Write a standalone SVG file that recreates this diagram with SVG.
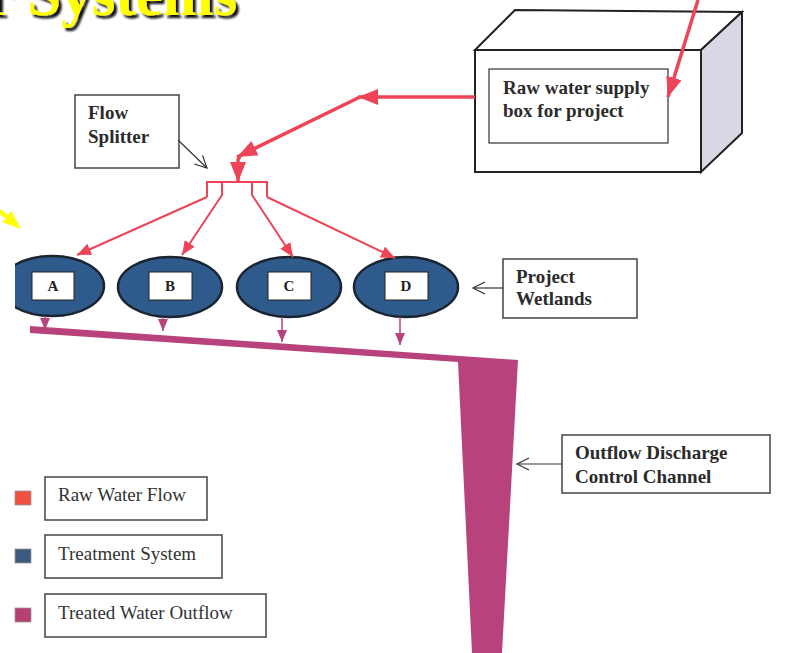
<svg xmlns="http://www.w3.org/2000/svg" width="802" height="653" viewBox="0 0 802 653">
<style>
.lbl{font-family:"Liberation Serif","Times New Roman",serif;font-weight:bold;font-size:19px;fill:#2b2b2b}
.leg{font-family:"Liberation Serif","Times New Roman",serif;font-size:19px;fill:#333}
.box{fill:#fff;stroke:#444;stroke-width:1.5}
.wet{fill:#2f5b8c;stroke:#1b2431;stroke-width:2.5}
.inner{fill:#fff;stroke:#222;stroke-width:1}
.let{font-family:"Liberation Serif","Times New Roman",serif;font-weight:bold;font-size:15px;fill:#222;text-anchor:middle}
.red{fill:none;stroke:#ee4457;stroke-width:3.5}
.redt{fill:none;stroke:#ee4457;stroke-width:2}
.pur{fill:none;stroke:#b8437c;stroke-width:1.5}
.lead{fill:none;stroke:#333;stroke-width:1.2}
.title{font-family:"Liberation Serif","Times New Roman",serif;font-weight:bold;font-size:61px;fill:#ffff00}
</style>
<defs>
<filter id="shadow" x="-10%" y="-20%" width="130%" height="150%"><feDropShadow dx="3" dy="3" stdDeviation="0.8" flood-color="#111" flood-opacity="1"/></filter>
<marker id="rh" markerUnits="userSpaceOnUse" markerWidth="22" markerHeight="18" refX="20" refY="8" orient="auto"><path d="M0,0 L20,8 L0,16 Z" fill="#ee4457"/></marker>
<marker id="rs" markerUnits="userSpaceOnUse" markerWidth="16" markerHeight="14" refX="14" refY="6" orient="auto"><path d="M0,0 L14,6 L0,12 Z" fill="#ee4457"/></marker>
<marker id="ph" markerUnits="userSpaceOnUse" markerWidth="14" markerHeight="12" refX="12" refY="5" orient="auto"><path d="M0,0 L12,5 L0,10 Z" fill="#b8437c"/></marker>
<marker id="oh" markerUnits="userSpaceOnUse" markerWidth="16" markerHeight="16" refX="13" refY="7" orient="auto"><path d="M1,1 L13,7 L1,13" fill="none" stroke="#333" stroke-width="1.2"/></marker>
<clipPath id="clipA"><rect x="15" y="240" width="120" height="90"/></clipPath>
</defs>
<rect width="802" height="653" fill="#ffffff"/>

<g id="title">
<text class="title" x="-14" y="15" filter="url(#shadow)">r Systems</text>
</g>

<g id="yellow-pointer">
<path d="M0,209 L8,215 L11,211 L21,229 L2,222 L6,219 L-2,213 Z" fill="#ffff00"/>
</g>

<g id="supply-box">
<polygon points="475,50 515,10 742,12 701,50" fill="#fff" stroke="#222" stroke-width="2"/>
<polygon points="701,50 742,12 742,133 701,172" fill="#d9d9e6" stroke="#222" stroke-width="2"/>
<rect x="475" y="50" width="226" height="122" fill="#fff" stroke="#222" stroke-width="2"/>
<rect x="489" y="69" width="179" height="74" fill="#fff" stroke="#333" stroke-width="1.2"/>
<text class="lbl" x="503" y="94">Raw water supply</text>
<text class="lbl" x="503" y="117">box for project</text>
</g>

<g id="flow-splitter-label">
<rect class="box" x="75" y="95" width="104" height="73"/>
<text class="lbl" x="88" y="119">Flow</text>
<text class="lbl" x="88" y="143">Splitter</text>
</g>

<g id="project-wetlands-label">
<rect class="box" x="503" y="259" width="134" height="59"/>
<text class="lbl" x="516" y="283">Project</text>
<text class="lbl" x="516" y="305">Wetlands</text>
</g>

<g id="outflow-label">
<rect class="box" x="562" y="435" width="208" height="58"/>
<text class="lbl" x="575" y="459">Outflow Discharge</text>
<text class="lbl" x="575" y="483">Control Channel</text>
</g>

<g id="channel">
<polygon points="30,326 518,360 502,653 472,653 458,362 30,333" fill="#b8437c"/>
</g>

<g id="wetland-A">
<ellipse class="wet" cx="52" cy="286" rx="52" ry="30" clip-path="url(#clipA)"/>
<rect class="inner" x="32" y="272" width="42" height="28"/>
<text class="let" x="53" y="291">A</text>
</g>
<g id="wetland-B">
<ellipse class="wet" cx="170" cy="287" rx="52" ry="30"/>
<rect class="inner" x="149" y="272" width="43" height="28"/>
<text class="let" x="170" y="291">B</text>
</g>
<g id="wetland-C">
<ellipse class="wet" cx="289" cy="287" rx="52" ry="30"/>
<rect class="inner" x="268" y="272" width="43" height="28"/>
<text class="let" x="289" y="291">C</text>
</g>
<g id="wetland-D">
<ellipse class="wet" cx="406" cy="287" rx="52" ry="30"/>
<rect class="inner" x="385" y="272" width="43" height="28"/>
<text class="let" x="406" y="291">D</text>
</g>

<g id="legend">
<rect x="15" y="491" width="16" height="14" fill="#f0503f" stroke="#999" stroke-width="0.8"/>
<rect class="box" x="45" y="477" width="162" height="43"/>
<text class="leg" x="58" y="501">Raw Water Flow</text>
<rect x="15" y="549" width="16" height="14" fill="#3c5a7f" stroke="#999" stroke-width="0.8"/>
<rect class="box" x="45" y="535" width="177" height="43"/>
<text class="leg" x="58" y="560">Treatment System</text>
<rect x="15" y="608" width="16" height="14" fill="#b6406f" stroke="#999" stroke-width="0.8"/>
<rect class="box" x="45" y="594" width="221" height="43"/>
<text class="leg" x="58" y="619">Treated Water Outflow</text>
</g>

<g id="connectors">
<line class="red" x1="698" y1="0" x2="668" y2="97" marker-end="url(#rh)"/>
<line class="red" x1="475" y1="97" x2="358" y2="97" marker-end="url(#rh)"/>
<line class="red" x1="360" y1="97" x2="237" y2="157" marker-end="url(#rh)"/>
<polyline class="red" points="240,156 238,160 238,182" marker-end="url(#rh)"/>
<polyline class="redt" points="207,197 207,182 267,182 267,197"/>
<polyline class="redt" points="207,197 77,255" marker-end="url(#rs)"/>
<polyline class="redt" points="222,182 222,195 182,255" marker-end="url(#rs)"/>
<polyline class="redt" points="252,182 252,195 293,257" marker-end="url(#rs)"/>
<polyline class="redt" points="267,197 395,258" marker-end="url(#rs)"/>
<line class="pur" x1="45" y1="316" x2="45" y2="330" marker-end="url(#ph)"/>
<line class="pur" x1="163" y1="317" x2="163" y2="331" marker-end="url(#ph)"/>
<line class="pur" x1="282" y1="317" x2="282" y2="342" marker-end="url(#ph)"/>
<line class="pur" x1="400" y1="317" x2="400" y2="345" marker-end="url(#ph)"/>
<line class="lead" x1="178" y1="140" x2="207" y2="168" marker-end="url(#oh)"/>
<line class="lead" x1="503" y1="288" x2="473" y2="288" marker-end="url(#oh)"/>
<line class="lead" x1="562" y1="464" x2="517" y2="464" marker-end="url(#oh)"/>
</g>
</svg>
